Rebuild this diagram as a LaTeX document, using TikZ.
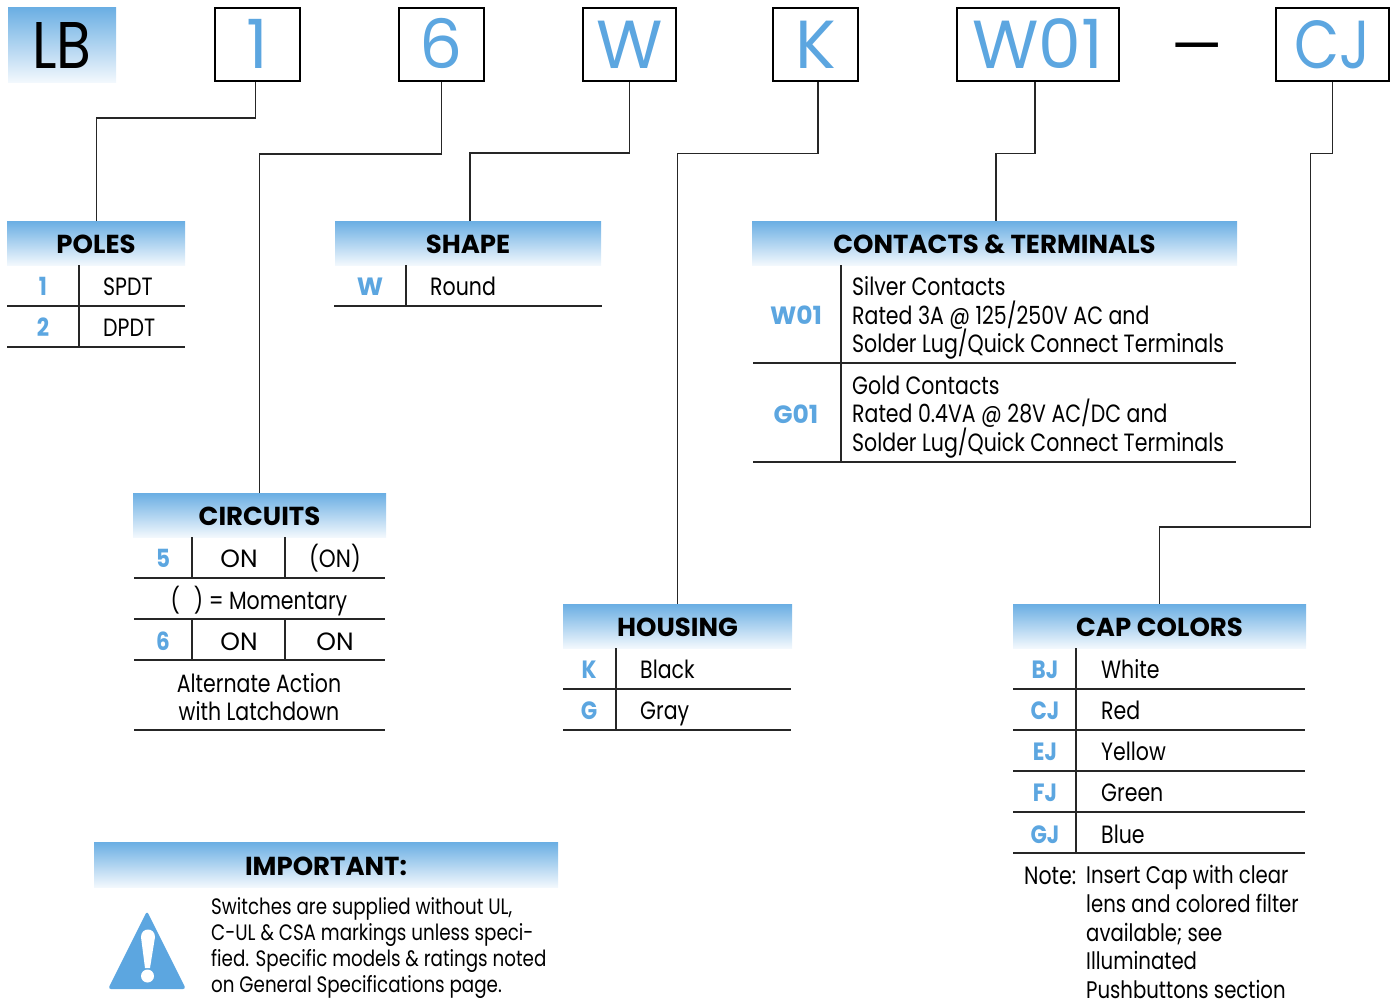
\documentclass[tikz,border=0pt]{standalone}
\usepackage{fontspec}
\setmainfont{Poppins}[FakeStretch=0.82]
\newfontfamily\tagfont{Poppins}
\newfontfamily\narrowfont{Poppins}[FakeStretch=0.86]

\definecolor{lbblue}{HTML}{5CA6E0}
\definecolor{lbtop}{HTML}{6AAEE3}
\definecolor{lbbot}{HTML}{F2F8FD}

\tikzset{
    headbar/.style={top color=lbtop,bottom color=lbbot,inner sep=0pt,text height=21pt,text depth=0pt,
        font=\fontsize{26}{26}\selectfont\tagfont\bfseries},
    tagbox/.style={draw=black,line width=2pt,inner sep=0pt,text=lbblue,text height=48pt,text depth=0pt,
        font=\fontsize{68}{68}\selectfont\tagfont},
    wire/.style={draw=black!85,line width=1.2pt},
    rowline/.style={draw=black!85,line width=1.2pt},
    codetxt/.style={text=lbblue,inner sep=0pt,text height=19pt,text depth=0pt,
        font=\fontsize{25}{25}\selectfont\narrowfont\bfseries},
    itemtxt/.style={inner sep=0pt,text height=19pt,text depth=0pt,anchor=west,
        font=\fontsize{25}{25}\selectfont},
    blocktxt/.style={inner sep=0pt,align=left,anchor=west,
        font=\fontsize{25}{28.7}\selectfont},
}

\begin{document}
\begin{tikzpicture}[x=1pt,y=-1pt]
        \useasboundingbox (0,0) rectangle (1392,1007);

        % Part number boxes (top)
        \node[headbar,minimum width=108pt,minimum height=75pt,text height=48pt,font=\fontsize{66}{66}\selectfont\narrowfont] (lb) at (62,44.5) {LB};
        \node[tagbox,minimum width=85pt,minimum height=73pt] (tagone) at (257.5,44.5) {1};
        \node[tagbox,minimum width=85pt,minimum height=73pt] (tagsix) at (441.5,44.5) {6};
        \node[tagbox,minimum width=93pt,minimum height=73pt] (tagw) at (629.5,44.5) {W};
        \node[tagbox,minimum width=85pt,minimum height=73pt] (tagk) at (815.5,44.5) {K};
        \node[tagbox,minimum width=162pt,minimum height=73pt] (tagwo) at (1038,44.5) {W01};
        \node[inner sep=0pt,font=\fontsize{58}{58}\selectfont\tagfont] (dash) at (1197,55) {—};
        \node[tagbox,minimum width=113pt,minimum height=73pt,font=\fontsize{68}{68}\selectfont\narrowfont] (tagcj) at (1332.5,44.5) {CJ};

        % Section headers
        \node[headbar,minimum width=178pt,minimum height=44pt] (poles) at (96,243) {POLES};
        \node[headbar,minimum width=266pt,minimum height=44pt] (shape) at (468,243) {SHAPE};
        \node[headbar,minimum width=485pt,minimum height=44pt] (contacts) at (994.5,243) {CONTACTS \& TERMINALS};
        \node[headbar,minimum width=253pt,minimum height=44pt] (circuits) at (259.5,515) {CIRCUITS};
        \node[headbar,minimum width=229pt,minimum height=44pt] (housing) at (677.5,626) {HOUSING};
        \node[headbar,minimum width=293pt,minimum height=44pt] (caps) at (1159.5,626) {CAP COLORS};
        \node[headbar,minimum width=464pt,minimum height=45pt] (important) at (326,864.5) {IMPORTANT:};

        % Connectors from the boxes down to the headers
        \draw[wire] ([xshift=-2pt]tagone.south) -- ++(0,36) -| ([xshift=.5pt]poles.north);
        \draw[wire] (tagsix.south) -- ++(0,72) -| (circuits.north);
        \draw[wire] (tagw.south) -- ++(0,71) -| ([xshift=2pt]shape.north);
        \draw[wire] ([xshift=2.5pt]tagk.south) -- ++(0,71.5) -| (housing.north);
        \draw[wire] ([xshift=-3pt]tagwo.south) -- ++(0,71.5) -| ([xshift=1.5pt]contacts.north);
        \draw[wire] (tagcj.south) -- ++(0,71.5) -- ++(-22,0) -- ++(0,373.5) -| (caps.north);

        % Poles
        \draw[rowline] (79,265) -- (79,347);
        \foreach \y in {306,347} {
            \draw[rowline] (7,\y) -- (185,\y);
        }
        \foreach \code/\txt/\y in {1/SPDT/286,2/DPDT/327} {
            \node[codetxt] (polecode\code) at (43,\y) {\code};
            \node[itemtxt] (poleitem\code) at (103,\y) {\txt};
        }

        % Shape
        \draw[rowline] (406,265) -- (406,306);
        \draw[rowline] (334,306) -- (602,306);
        \node[codetxt] (shapecode) at (370,286) {\tagfont W};
        \node[itemtxt] (shapeitem) at (430,286) {Round};

        % Contacts and terminals
        \draw[rowline] (841,265) -- (841,462);
        \foreach \y in {363,462} {
            \draw[rowline] (753,\y) -- (1236,\y);
        }
        \node[codetxt] (contactsilver) at (796,315) {\tagfont W01};
        \node[codetxt] (contactgold) at (796,414) {\tagfont G01};
        \node[blocktxt] (silvertxt) at (852,318) {Silver Contacts\\Rated 3A @ 125/250V AC and\\Solder Lug/Quick Connect Terminals};
        \node[blocktxt] (goldtxt) at (852,417) {Gold Contacts\\Rated 0.4VA @ 28V AC/DC and\\Solder Lug/Quick Connect Terminals};

        % Circuits
        \foreach \x in {192,285} {
            \draw[rowline] (\x,537) -- (\x,578);
            \draw[rowline] (\x,619) -- (\x,660);
        }
        \foreach \y in {578,619,660,730} {
            \draw[rowline] (134,\y) -- (385,\y);
        }
        \node[codetxt] (circode) at (163,558) {5};
        \node[itemtxt,anchor=center] (cirona) at (239,558) {\tagfont ON};
        \node[itemtxt,anchor=center] (cironb) at (335,558) {\narrowfont (ON)};
        \node[itemtxt,anchor=center] (cirnote) at (259,600) {(\hspace{14pt}) = Momentary};
        \node[codetxt] (circodeb) at (163,641) {6};
        \node[itemtxt,anchor=center] (cironc) at (239,641) {\tagfont ON};
        \node[itemtxt,anchor=center] (cirond) at (335,641) {\tagfont ON};
        \node[blocktxt,align=center,anchor=center] (cirtxt) at (259,697) {Alternate Action\\with Latchdown};

        % Housing
        \draw[rowline] (616,648) -- (616,730);
        \foreach \y in {689,730} {
            \draw[rowline] (563,\y) -- (791,\y);
        }
        \foreach \code/\txt/\y in {K/Black/669,G/Gray/710} {
            \node[codetxt] (housecode\code) at (589,\y) {\code};
            \node[itemtxt] (houseitem\code) at (640,\y) {\txt};
        }

        % Cap colors
        \draw[rowline] (1076,648) -- (1076,853);
        \foreach \y in {689,730,771,812,853} {
            \draw[rowline] (1013,\y) -- (1305,\y);
        }
        \foreach \code/\txt/\y in {BJ/White/669,CJ/Red/710,EJ/Yellow/751,FJ/Green/792,GJ/Blue/834} {
            \node[codetxt] (capcode\code) at (1045,\y) {\code};
            \node[itemtxt] (capitem\code) at (1101,\y) {\txt};
        }
        \node[itemtxt] (notehead) at (1024,875) {Note:};
        \node[blocktxt,font=\fontsize{24}{28.7}\selectfont] (notetxt) at (1086,932) {Insert Cap with clear\\lens and colored filter\\available; see\\Illuminated\\Pushbuttons section};

        % Important note with warning sign
        \fill[lbblue,rounded corners=3pt] (147,911) -- (186,989) -- (108,989) -- cycle;
        \fill[white] (141,937) .. controls (141,927) and (155,927) .. (155,937) -- (150,968) -- (145,968) -- cycle;
        \fill[white] (147.5,976) circle (6.5);
        \node[blocktxt,font=\fontsize{22.3}{26}\selectfont] (imptxt) at (211,948) {Switches are supplied without UL,\\C-UL \& CSA markings unless speci-\\fied.  Specific models \& ratings noted\\on General Specifications page.};

    \end{tikzpicture}
\end{document}
